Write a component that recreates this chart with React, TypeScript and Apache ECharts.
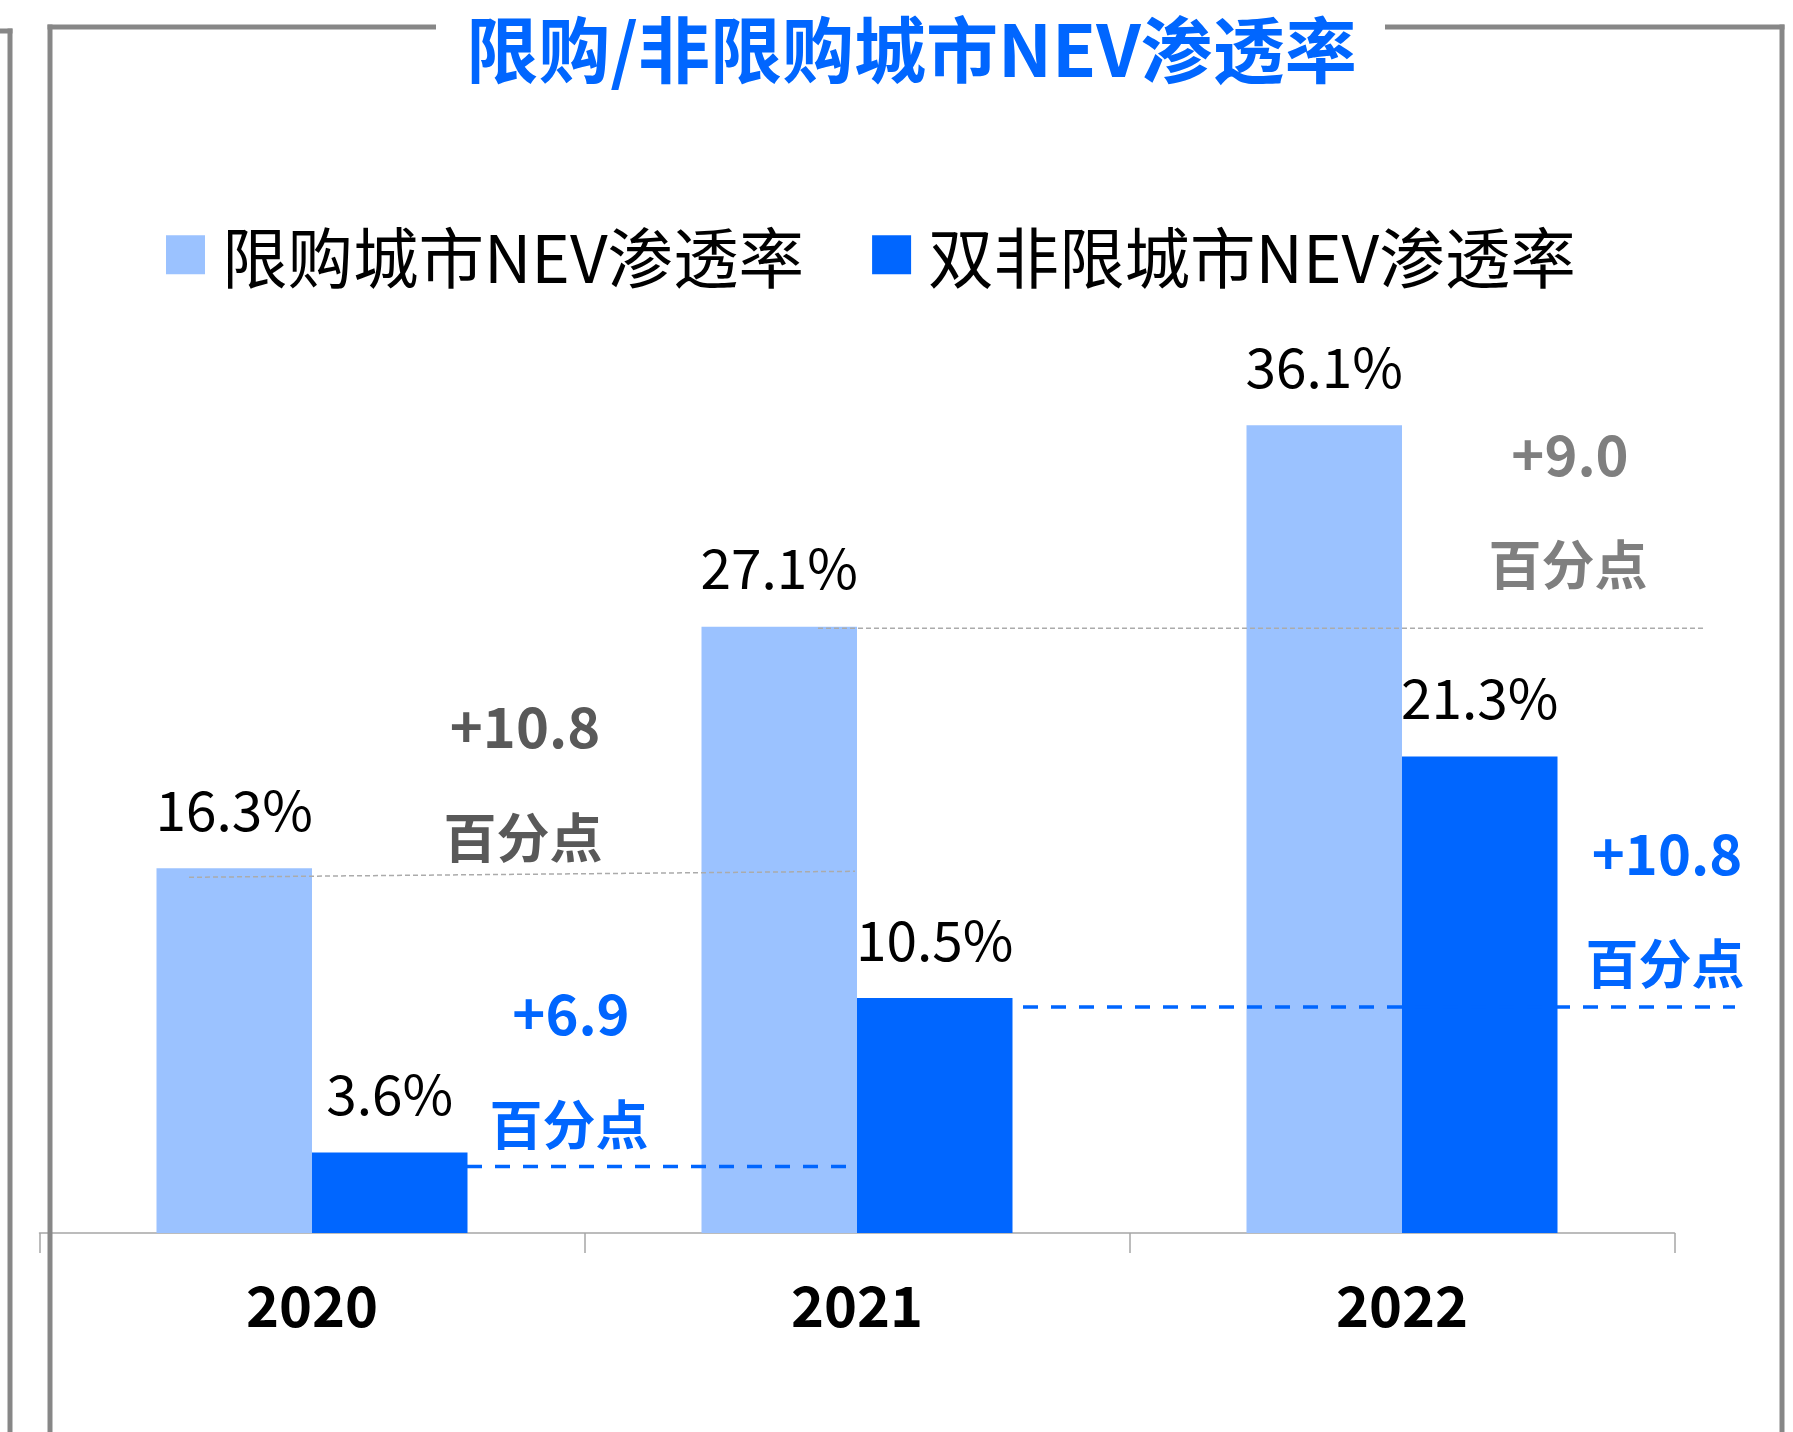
import React, { useEffect, useRef } from 'react';
import * as echarts from 'echarts';

const categories = ['2020', '2021', '2022'];
const seriesNames = ['限购城市NEV渗透率', '双非限城市NEV渗透率'];
const restrictedValues = [16.3, 27.1, 36.1];
const nonRestrictedValues = [3.6, 10.5, 21.3];
const titleText = '限购/非限购城市NEV渗透率';
const restrictedDeltas = ['+10.8', '+9.0'];
const nonRestrictedDeltas = ['+6.9', '+10.8'];
const deltaUnit = '百分点';

const W = 1793;
const H = 1432;
const LIGHT = '#9BC2FF';
const DARK = '#0066FF';
const BORDER = '#878787';
const FONT = '"Noto Sans CJK SC", "Noto Sans", sans-serif';

export default function App() {
  const ref = useRef<HTMLDivElement>(null);

  useEffect(() => {
    document.body.style.margin = '0';
    const chart = echarts.init(ref.current as HTMLDivElement, null, { renderer: 'svg' });

    const labelStyle = {
      show: true,
      position: 'top',
      distance: 34,
      formatter: '{c}%',
      fontSize: 55,
      color: '#000',
      fontFamily: FONT,
    };

    chart.setOption({
      animation: false,
      backgroundColor: '#fff',
      grid: { left: 39.5, right: 118.5, top: 338, bottom: 199 },
      legend: {
        left: 166,
        top: 222,
        padding: 0,
        itemWidth: 39,
        itemHeight: 39,
        itemGap: 68,
        icon: 'rect',
        data: seriesNames,
        textStyle: { fontSize: 65.5, color: '#000', fontFamily: FONT, padding: [0, 0, 12, 12] },
      },
      xAxis: {
        type: 'category',
        data: categories,
        boundaryGap: true,
        axisLine: { lineStyle: { color: '#A6A6A6', width: 1.5 } },
        axisTick: { show: true, length: 20, lineStyle: { color: '#A6A6A6', width: 1.5 } },
        axisLabel: { fontSize: 56, fontWeight: 'bold', color: '#000', margin: 41, fontFamily: FONT },
      },
      yAxis: { type: 'value', min: 0, max: 40, show: false },
      series: [
        {
          name: seriesNames[0],
          type: 'bar',
          data: restrictedValues,
          barWidth: 155.5,
          barGap: '0%',
          itemStyle: { color: LIGHT },
          label: labelStyle,
        },
        {
          name: seriesNames[1],
          type: 'bar',
          data: nonRestrictedValues,
          barWidth: 155.5,
          barGap: '0%',
          itemStyle: { color: DARK },
          label: labelStyle,
        },
      ],
    });

    const pt = (i: number, v: number) => chart.convertToPixel({ gridIndex: 0 }, [i, v]) as number[];
    const c0 = pt(0, 0)[0];
    const c1 = pt(1, 0)[0];
    const c2 = pt(2, 0)[0];
    const yOf = (v: number) => pt(0, v)[1];

    const dashed = (x1: number, y1: number, x2: number, y2: number, color: string, width: number, dash: number[]) => ({
      type: 'line',
      z: 20,
      shape: { x1, y1, x2, y2 },
      style: { stroke: color, lineWidth: width, lineDash: dash },
    });
    const border = (x1: number, y1: number, x2: number, y2: number) => ({
      type: 'line',
      z: 30,
      shape: { x1, y1, x2, y2 },
      style: { stroke: BORDER, lineWidth: 5 },
    });
    const txt = (x: number, y: number, text: string, color: string, size: number) => ({
      type: 'text',
      z: 30,
      x,
      y,
      style: {
        text,
        fill: color,
        font: `bold ${size}px ${FONT}`,
        textAlign: 'center',
        textVerticalAlign: 'middle',
      },
    });

    chart.setOption({
      graphic: [
        // frame
        border(0, 31, 12.5, 31),
        border(10, 28.5, 10, H),
        border(47.5, 27, 436, 27),
        border(1385, 27, 1784.5, 27),
        border(50, 24.5, 50, H),
        border(1782, 24.5, 1782, H),
        // title
        txt(911.5, 45, titleText, '#0066FF', 72),
        // reference lines
        dashed(c0 - 123, yOf(restrictedValues[0]) + 9, c1 - 2, yOf(restrictedValues[0]) + 3, '#ABABAB', 1.5, [5, 3]),
        dashed(c1 - 39, yOf(restrictedValues[1]) + 1.5, c2 + 301, yOf(restrictedValues[1]) + 1.5, '#ABABAB', 1.5, [5, 3]),
        dashed(c0 + 155, yOf(nonRestrictedValues[0]) + 14, c1 - 11, yOf(nonRestrictedValues[0]) + 14, DARK, 3.5, [15, 13]),
        dashed(c1 + 166, yOf(nonRestrictedValues[1]) + 9, c2 + 333, yOf(nonRestrictedValues[1]) + 9, DARK, 3.5, [15, 13]),
        // deltas
        txt(525, 723, restrictedDeltas[0], '#595959', 56),
        txt(523, 835, deltaUnit, '#595959', 53),
        txt(1570, 451, restrictedDeltas[1], '#7F7F7F', 56),
        txt(1568, 562, deltaUnit, '#7F7F7F', 53),
        txt(571, 1010, nonRestrictedDeltas[0], DARK, 56),
        txt(569, 1122, deltaUnit, DARK, 53),
        txt(1667, 850, nonRestrictedDeltas[1], DARK, 56),
        txt(1665, 961, deltaUnit, DARK, 53),
      ],
    });

    return () => chart.dispose();
  }, []);

  return <div ref={ref} style={{ width: W, height: H }} />;
}
